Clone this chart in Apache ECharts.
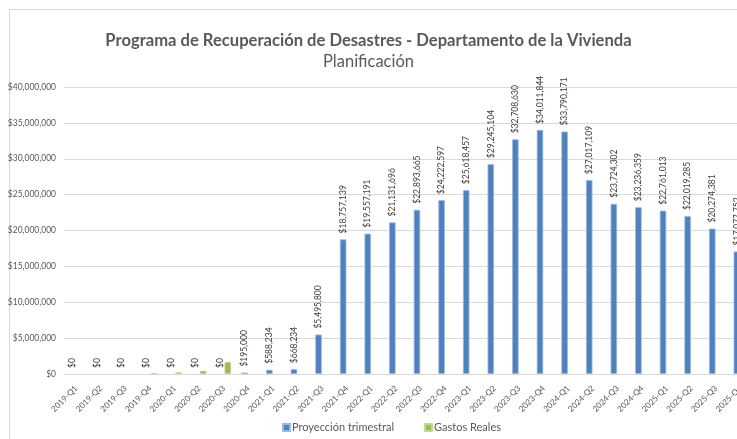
<!DOCTYPE html>
<html>
<head>
<meta charset="utf-8">
<script src="https://cdn.jsdelivr.net/npm/echarts@6/dist/echarts.min.js"></script>
<style>
  html, body { margin: 0; padding: 0; background: #ffffff; }
  #chart { width: 737px; height: 439px; }
</style>
</head>
<body>
<div id="chart"></div>
<script>
const titleText = 'Programa de Recuperación de Desastres - Departamento de la Vivienda';
const subtitleText = 'Planificación';

const categories = [
  '2019-Q1','2019-Q2','2019-Q3','2019-Q4',
  '2020-Q1','2020-Q2','2020-Q3','2020-Q4',
  '2021-Q1','2021-Q2','2021-Q3','2021-Q4',
  '2022-Q1','2022-Q2','2022-Q3','2022-Q4',
  '2023-Q1','2023-Q2','2023-Q3','2023-Q4',
  '2024-Q1','2024-Q2','2024-Q3','2024-Q4',
  '2025-Q1','2025-Q2','2025-Q3','2025-Q4'
];

const proyeccionTrimestral = [
  0, 0, 0, 0,
  0, 0, 0, 195000,
  588234, 668234, 5495800, 18757139,
  19557191, 21131696, 22893665, 24222597,
  25618457, 29245104, 32708630, 34011844,
  33790171, 27017109, 23724302, 23236359,
  22761013, 22019285, 20274381, 17077752
];

const gastosReales = [
  0, 0, 0, 80000,
  250000, 450000, 1650000, null,
  null, null, null, null,
  null, null, null, null,
  null, null, null, null,
  null, null, null, null,
  null, null, null, null
];

const seriesNames = ['Proyección trimestral', 'Gastos Reales'];

const yMin = 0;
const yMax = 40000000;
const yInterval = 5000000;

function money(v) {
  return '$' + Number(v).toLocaleString('en-US');
}

// zero-height bars: no outline (Excel draws nothing for them)
function withoutZeroOutline(arr) {
  return arr.map(function (v) {
    return v === 0 ? { value: 0, itemStyle: { borderWidth: 0 } } : v;
  });
}

const FONT = 'Lato';
const chart = echarts.init(document.getElementById('chart'), null, { renderer: 'canvas' });

chart.setOption({
  backgroundColor: '#ffffff',
  animation: false,
  graphic: [{
    type: 'rect',
    z: -10,
    silent: true,
    shape: { x: 9.5, y: 9.5, width: 1200, height: 1200 },
    style: { fill: 'none', stroke: '#D9D9D9', lineWidth: 1 }
  }],
  title: [
    {
      text: titleText,
      left: 'center',
      top: 27,
      textStyle: { fontFamily: FONT, fontSize: 16.6, fontWeight: 'bold', color: '#595959' }
    },
    {
      text: subtitleText,
      left: 'center',
      top: 48,
      textStyle: { fontFamily: FONT, fontSize: 16.5, fontWeight: 'normal', color: '#595959' }
    }
  ],
  legend: {
    left: 277,
    top: 417,
    itemWidth: 7,
    itemHeight: 7,
    itemGap: 30,
    icon: 'rect',
    textStyle: { fontFamily: FONT, fontSize: 11, color: '#595959', padding: [0, 0, 0, -3] },
    data: seriesNames
  },
  grid: {
    left: 64,
    width: 689,
    top: 87,
    bottom: 65,
    containLabel: false,
    outerBoundsMode: 'none'
  },
  xAxis: {
    type: 'category',
    data: categories,
    axisLine: { lineStyle: { color: '#D9D9D9' } },
    axisTick: { show: false },
    axisLabel: {
      interval: 0,
      rotate: 45,
      margin: 13,
      fontFamily: FONT,
      fontSize: 8.2,
      color: '#595959'
    }
  },
  yAxis: {
    type: 'value',
    min: yMin,
    max: yMax,
    interval: yInterval,
    axisLine: { show: false },
    axisTick: { show: false },
    splitLine: { lineStyle: { color: '#D9D9D9' } },
    axisLabel: {
      fontFamily: FONT,
      fontSize: 8.5,
      color: '#595959',
      margin: 8,
      formatter: money
    }
  },
  series: [
    {
      name: seriesNames[0],
      type: 'bar',
      data: withoutZeroOutline(proyeccionTrimestral),
      barWidth: 6.5,
      barGap: '18%',
      itemStyle: { color: '#4F81BD', borderColor: '#9DB9DE', borderWidth: 0.8 },
      label: {
        show: true,
        position: 'top',
        rotate: 90,
        align: 'left',
        verticalAlign: 'middle',
        distance: 6,
        fontFamily: FONT,
        fontSize: 8.5,
        color: '#404040',
        formatter: function (p) { return money(p.value); }
      }
    },
    {
      name: seriesNames[1],
      type: 'bar',
      data: withoutZeroOutline(gastosReales),
      barWidth: 6.5,
      barGap: '18%',
      itemStyle: { color: '#9BBB59', borderColor: '#C3D69B', borderWidth: 0.8 }
    }
  ]
});
</script>
</body>
</html>
